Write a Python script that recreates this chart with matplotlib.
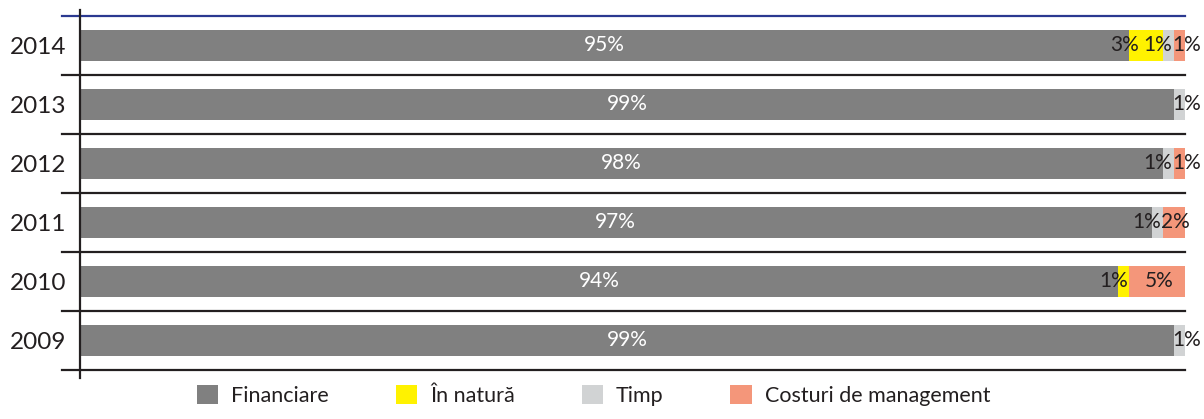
import numpy as np
import matplotlib.pyplot as plt

plt.rcParams['font.family'] = ['Lato', 'DejaVu Sans']

years = ["2014", "2013", "2012", "2011", "2010", "2009"]
categories = ["Financiare", "În natură", "Timp", "Costuri de management"]
financiare = [95, 99, 98, 97, 94, 99]
in_natura = [3, 0, 0, 0, 1, 0]
timp = [1, 1, 1, 1, 0, 1]
costuri = [1, 0, 1, 2, 5, 0]
colors = ["#808080", "#FFF200", "#D1D3D4", "#F4967A"]

series = [financiare, in_natura, timp, costuri]

fig = plt.figure(figsize=(12.04, 4.19), dpi=100)
ax = fig.add_axes([0.0664, 0.117, 0.9176, 0.845])

y = np.arange(len(years))[::-1]
left = np.zeros(len(years))
for vals, name, col in zip(series, categories, colors):
    vals = np.array(vals, dtype=float)
    ax.barh(y, vals, left=left, height=0.53, color=col, label=name)
    left = left + vals

# percent labels
fs = 15
for i in range(len(years)):
    start = 0
    nonzero = [k for k in range(4) if series[k][i] > 0]
    last = nonzero[-1]
    for k in range(4):
        v = series[k][i]
        if v <= 0:
            continue
        if k == 0:
            ax.text(start + v / 2, y[i], f"{v}%", ha="center", va="center",
                    color="white", fontsize=fs)
        elif k == last:
            if v <= 1:
                ax.text(start - 0.1, y[i], f"{v}%", ha="left", va="center",
                        color="#231F20", fontsize=fs, clip_on=False)
            else:
                ax.text(start + v / 2 + 0.15, y[i], f"{v}%", ha="center", va="center",
                        color="#231F20", fontsize=fs, clip_on=False)
        else:
            ax.text(start - 0.45, y[i], f"{v}%", ha="center", va="center",
                    color="#231F20", fontsize=fs)
        start += v

# separator lines
for s in np.arange(-0.5, len(years), 1.0):
    col = "#2B3990" if s == len(years) - 0.5 else "#231F20"
    ax.plot([-1.6, 100], [s, s], color=col, lw=1.6, clip_on=False)
ax.plot([0, 0], [-0.5 - 0.14, len(years) - 0.5 + 0.1], color="#231F20", lw=1.6, clip_on=False)

ax.set_xlim(0, 100)
ax.set_ylim(-0.5, len(years) - 0.5)
ax.set_yticks(y)
ax.set_yticklabels(years, fontsize=17.5, color="#231F20")
ax.tick_params(axis="y", length=0, pad=10)
ax.set_xticks([])
for sp in ax.spines.values():
    sp.set_visible(False)

fig.legend(loc="lower center", bbox_to_anchor=(0.493, -0.015), ncol=4, frameon=False,
           fontsize=15.5, handlelength=1.0, handleheight=1.0, handletextpad=0.6,
           columnspacing=3.1, labelcolor="#231F20")

fig.savefig("out.png", dpi=100)
